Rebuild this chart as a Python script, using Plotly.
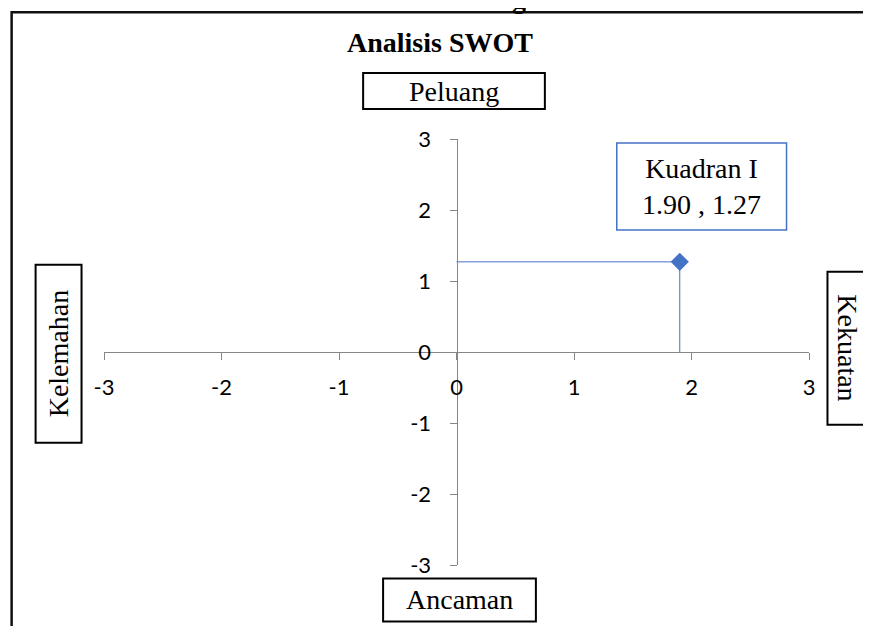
import plotly.graph_objects as go

# ---- data ----
point_x = [1.90]
point_y = [1.27]
point_label = ["Kuadran I", "1.90 , 1.27"]
tick_vals = [-3, -2, -1, 0, 1, 2, 3]
tick_text = ["-3", "-2", "-1", "0", "1", "2", "3"]
title_text = "Analisis SWOT"
axis_labels = {"top": "Peluang", "bottom": "Ancaman", "left": "Kelemahan", "right": "Kekuatan"}

# page has an 8px body margin: work in page pixels, convert to figure coords
OFF = 8
W, H = 871 - OFF, 626 - OFF
PX0, PX1 = 103.5, 809.5   # plot area in page pixels (x)
PY0, PY1 = 139, 565.5     # plot area in page pixels (y)
L = PX0 - OFF
R = W - (PX1 - OFF)
T = PY0 - OFF
B = H - (PY1 - OFF)
PW = PX1 - PX0
PH = PY1 - PY0


def fx(p):
    return (p - PX0) / PW


def fy(p):
    return (PY1 - p) / PH


BLUE = "#4472C4"
AXC = "#868686"
SERIF = "Liberation Serif"
SANS = "Lato"

fig = go.Figure()

# guide lines from axes to the point
lx, ly = [], []
for x, y in zip(point_x, point_y):
    lx += [0, x, None, x, x, None]
    ly += [y, y, None, 0, y, None]
fig.add_trace(go.Scatter(x=lx, y=ly, mode="lines", line=dict(color=BLUE, width=1),
                         hoverinfo="skip", showlegend=False))
fig.add_trace(go.Scatter(x=point_x, y=point_y, mode="markers",
                         marker=dict(symbol="diamond", size=14, color=BLUE),
                         showlegend=False))

axis_common = dict(range=[-3, 3], tickvals=tick_vals, ticktext=tick_text, showgrid=False,
                   zeroline=False, showline=True, linecolor=AXC, linewidth=1, ticks="outside",
                   ticklen=7, tickcolor=AXC, tickwidth=1,
                   tickfont=dict(family=SANS, size=22, color="black"),
                   anchor="free", position=0.5)
fig.update_xaxes(**axis_common, ticklabelstandoff=9)
fig.update_yaxes(**axis_common, ticklabelstandoff=14)

shapes = []
annotations = []

# outer border
shapes.append(dict(type="rect", xref="paper", yref="paper",
                   x0=fx(11), x1=fx(900), y0=fy(700), y1=fy(12),
                   line=dict(color="#111111", width=2.5)))


def box(x0, y0, x1, y1, text, angle=0, color="black", lw=2):
    shapes.append(dict(type="rect", xref="paper", yref="paper",
                       x0=fx(x0), x1=fx(x1), y0=fy(y1), y1=fy(y0),
                       line=dict(color=color, width=lw), fillcolor="white"))
    annotations.append(dict(xref="paper", yref="paper", x=fx((x0 + x1) / 2), y=fy((y0 + y1) / 2),
                            text=text, showarrow=False, textangle=angle,
                            font=dict(family=SERIF, size=28, color="black"),
                            xanchor="center", yanchor="middle"))


box(363, 73, 545, 109, axis_labels["top"])
box(383, 579, 536, 622, axis_labels["bottom"])
box(35, 265, 81, 443, axis_labels["left"], angle=-90)
box(828, 272, 869, 425, axis_labels["right"], angle=90)
box(617, 143, 787, 230, "<br>".join(point_label), color=BLUE, lw=1.5)

# title
annotations.append(dict(xref="paper", yref="paper", x=fx(440), y=fy(42), text="<b>%s</b>" % title_text,
                        showarrow=False, font=dict(family=SERIF, size=28, color="black"),
                        xanchor="center", yanchor="middle"))
# clipped text from above the chart (only its descender shows in the reference)
annotations.append(dict(xref="paper", yref="paper", x=fx(519), y=fy(-2), text="<b>g</b>",
                        showarrow=False, font=dict(family=SERIF, size=28, color="black"),
                        xanchor="center", yanchor="middle"))

fig.update_layout(width=W, height=H, margin=dict(l=L, r=R, t=T, b=B),
                  paper_bgcolor="white", plot_bgcolor="white",
                  shapes=shapes, annotations=annotations, showlegend=False)

fig.write_html("out.html")
